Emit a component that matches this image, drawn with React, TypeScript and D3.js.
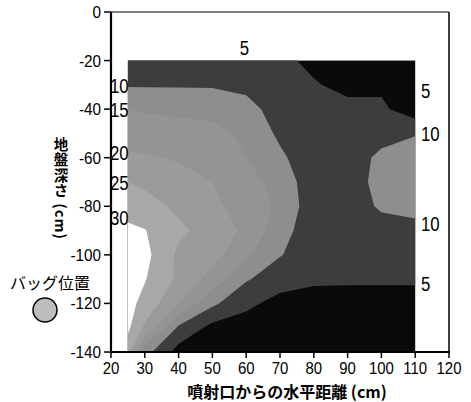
import React from 'react';
import * as d3 from 'd3';

// grid columns (cm from nozzle) and rows (depth, cm)
const xCols = [25, 30, 40, 50, 60, 70, 80, 90, 100, 110];
const depthRows = [-20, -30, -40, -50, -60, -70, -80, -90, -100, -110, -120, -130, -140];

// values, one row per depth
const row20 = [7, 7, 7, 7, 6.5, 5.8, 4.2, 3, 3, 3];
const row30 = [9.5, 9.5, 9.5, 9.5, 8.5, 7, 5.3, 4, 4, 3];
const row40 = [15, 14.5, 14, 13.5, 12, 7.5, 6.5, 6, 6, 2];
const row50 = [18, 17.5, 17, 16.5, 14, 9, 6.5, 6, 7.5, 9.6];
const row60 = [20.8, 20.5, 19.5, 18, 15, 11, 6.5, 6.5, 11.5, 13];
const row70 = [25, 24, 22, 20, 17, 13, 7, 7, 12, 13];
const row80 = [28, 27, 24, 21, 18, 14, 7, 7, 10.8, 12];
const row90 = [31, 30.2, 26, 23, 19, 12, 7, 7, 7.5, 8];
const row100 = [33, 31.5, 24, 22, 16, 10.3, 7, 7.5, 7, 6.5];
const row110 = [32.5, 30.3, 24, 18, 10.5, 7, 6, 6, 6, 6];
const row120 = [31.5, 28.5, 20, 11, 6, 3.5, 2.5, 2, 2, 2];
const row130 = [31, 24, 9, 3.5, 3, 2, 1.5, 1.5, 1.5, 1.5];
const row140 = [27, 12, 3, 2.5, 2, 1.5, 1, 1, 1, 1];

const levels = [5, 10, 15, 20, 25, 30];
const bandColors = ['#3d3d3d', '#8e8e8e', '#949494', '#9b9b9b', '#a8a8a8', '#ffffff'];

const xTicks = [20, 30, 40, 50, 60, 70, 80, 90, 100, 110, 120];
const yTicks = [0, -20, -40, -60, -80, -100, -120, -140];

// contour labels: [text, depth]
const leftLabels: [string, number][] = [['10', -30], ['15', -40], ['20', -57.5], ['25', -70], ['30', -84.5]];
const rightLabels: [string, number][] = [['5', -32], ['10', -50], ['10', -87], ['5', -111.5]];
const topLabel: [string, number, number] = ['5', 59.5, -14.5];

const W = 471;
const H = 402;
const num = '"Liberation Sans", Arial, sans-serif';
const jp = '"Noto Sans CJK JP", sans-serif';

function Num({ x, y, size, sx, anchor, children }: { x: number; y: number; size: number; sx: number; anchor?: string; children: React.ReactNode }) {
  return (
    <text
      transform={`translate(${x},${y}) scale(${sx},1)`}
      textAnchor={anchor || 'start'}
      fontFamily={num}
      fontSize={size}
      fill="#000"
    >
      {children}
    </text>
  );
}

export default function App() {
  const x = d3.scaleLinear().domain([20, 120]).range([111, 449]);
  const y = d3.scaleLinear().domain([0, -140]).range([12, 352]);

  const grid = [row20, row30, row40, row50, row60, row70, row80, row90, row100, row110, row120, row130, row140];
  const nx = xCols.length;
  const ny = depthRows.length;
  const colAt = d3.scaleLinear().domain(d3.range(nx)).range(xCols);
  const rowAt = d3.scaleLinear().domain(d3.range(ny)).range(depthRows);

  const contours = d3.contours().size([nx, ny]).thresholds(levels)(grid.flat());

  const toPath = (mp: d3.ContourMultiPolygon) =>
    mp.coordinates
      .map(poly =>
        poly
          .map(ring =>
            'M' +
            ring
              .map(([cx, cy]) => {
                const ix = Math.max(0, Math.min(nx - 1, cx - 0.5));
                const iy = Math.max(0, Math.min(ny - 1, cy - 0.5));
                return `${x(colAt(ix)).toFixed(2)},${y(rowAt(iy)).toFixed(2)}`;
              })
              .join('L') +
            'Z'
          )
          .join('')
      )
      .join('');

  const x0 = x(xCols[0]);
  const x1 = x(xCols[nx - 1]);
  const y0 = y(depthRows[0]);
  const y1 = y(depthRows[ny - 1]);

  return (
    <svg width={W} height={H} style={{ position: 'absolute', left: 0, top: 0, background: '#fff' }}>
      {/* base band (< 5) */}
      <rect x={x0} y={y0} width={x1 - x0} height={y1 - y0} fill="#0a0a0a" />
      {contours.map((c, i) => (
        <path key={i} d={toPath(c)} fill={bandColors[i]} stroke="none" />
      ))}

      {/* frame */}
      <line x1={111} x2={449} y1={y(0)} y2={y(0)} stroke="#000" strokeWidth={1.2} />
      <line x1={449} x2={449} y1={y(0)} y2={y(-140)} stroke="#000" strokeWidth={1.5} />
      <line x1={111} x2={111} y1={y(0)} y2={y(-140) + 1} stroke="#000" strokeWidth={2.2} />
      <line x1={110} x2={450} y1={y(-140)} y2={y(-140)} stroke="#000" strokeWidth={2} />

      {/* x axis */}
      {xTicks.map(t => (
        <g key={t}>
          <line x1={x(t)} x2={x(t)} y1={y(-140)} y2={y(-140) + 6} stroke="#000" strokeWidth={1.5} />
          <Num x={x(t)} y={y(-140) + 22} size={17} sx={0.88} anchor="middle">
            {t}
          </Num>
        </g>
      ))}
      <text x={287} y={398} textAnchor="middle" fontFamily={jp} fontWeight="bold" fontSize={16} fill="#000">
        噴射口からの水平距離 (cm)
      </text>

      {/* y axis */}
      {yTicks.map(t => (
        <g key={t}>
          <line x1={104} x2={111} y1={y(t)} y2={y(t)} stroke="#000" strokeWidth={1.5} />
          <Num x={101} y={y(t) + 6} size={17} sx={0.9} anchor="end">
            {t}
          </Num>
        </g>
      ))}
      <text
        x={61}
        y={137}
        style={{ writingMode: 'vertical-rl', letterSpacing: '1px' }}
        fontFamily={jp}
        fontWeight="bold"
        fontSize={14.5}
        fill="#000"
      >
        地盤深さ (cm)
      </text>

      {/* contour labels */}
      {leftLabels.map(([s, d], i) => (
        <Num key={'l' + i} x={110} y={y(d) + 8} size={21} sx={0.8}>
          {s}
        </Num>
      ))}
      {rightLabels.map(([s, d], i) => (
        <Num key={'r' + i} x={421} y={y(d) + 8} size={21} sx={0.8}>
          {s}
        </Num>
      ))}
      <Num x={x(topLabel[1])} y={y(topLabel[2]) + 8} size={21} sx={0.8} anchor="middle">
        {topLabel[0]}
      </Num>

      {/* bag position legend */}
      <text x={10} y={289} fontFamily={jp} fontSize={16} fill="#000">
        バッグ位置
      </text>
      <circle cx={45} cy={310} r={12} fill="#bdbdbd" stroke="#000" strokeWidth={1.5} />
    </svg>
  );
}
